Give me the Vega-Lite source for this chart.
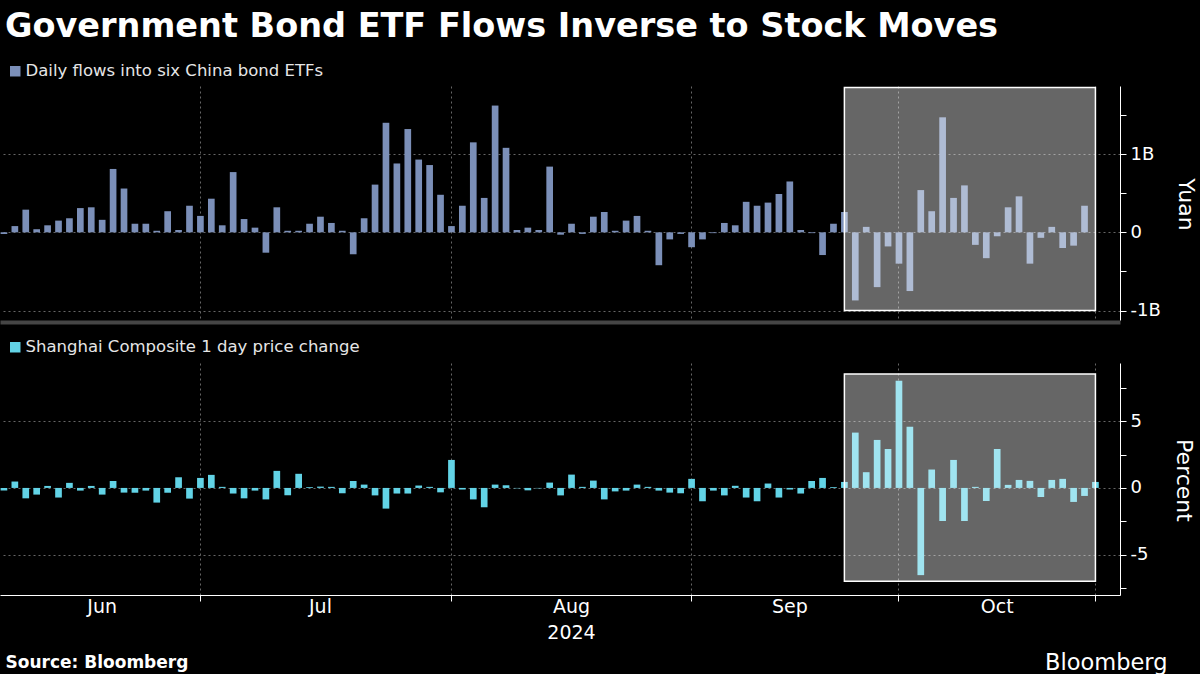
{
  "$schema": "https://vega.github.io/schema/vega-lite/v6.json",
  "background": "#000000",
  "padding": {"left": 0, "top": 9, "right": 4, "bottom": 0},
  "autosize": {"type": "pad"},
  "title": {"text": "Government Bond ETF Flows Inverse to Stock Moves", "anchor": "start", "dx": 5, "fontSize": 33.5, "font": "DejaVu Sans", "fontWeight": "bold", "color": "#ffffff", "offset": 19},
  "datasets": {
    "flows": [
      {"date": "2024-06-03", "bn": -0.02}, {"date": "2024-06-04", "bn": 0.08}, {"date": "2024-06-05", "bn": 0.29}, {"date": "2024-06-06", "bn": 0.04}, {"date": "2024-06-07", "bn": 0.09},
      {"date": "2024-06-11", "bn": 0.15}, {"date": "2024-06-12", "bn": 0.18}, {"date": "2024-06-13", "bn": 0.31}, {"date": "2024-06-14", "bn": 0.32},
      {"date": "2024-06-17", "bn": 0.16}, {"date": "2024-06-18", "bn": 0.81}, {"date": "2024-06-19", "bn": 0.56}, {"date": "2024-06-20", "bn": 0.11}, {"date": "2024-06-21", "bn": 0.11},
      {"date": "2024-06-24", "bn": 0.02}, {"date": "2024-06-25", "bn": 0.27}, {"date": "2024-06-26", "bn": 0.03}, {"date": "2024-06-27", "bn": 0.34}, {"date": "2024-06-28", "bn": 0.21},
      {"date": "2024-07-01", "bn": 0.43}, {"date": "2024-07-02", "bn": 0.09}, {"date": "2024-07-03", "bn": 0.77}, {"date": "2024-07-04", "bn": 0.17}, {"date": "2024-07-05", "bn": 0.06},
      {"date": "2024-07-08", "bn": -0.26}, {"date": "2024-07-09", "bn": 0.32}, {"date": "2024-07-10", "bn": 0.02}, {"date": "2024-07-11", "bn": 0.02}, {"date": "2024-07-12", "bn": 0.11},
      {"date": "2024-07-15", "bn": 0.20}, {"date": "2024-07-16", "bn": 0.12}, {"date": "2024-07-17", "bn": 0.02}, {"date": "2024-07-18", "bn": -0.28}, {"date": "2024-07-19", "bn": 0.18},
      {"date": "2024-07-22", "bn": 0.61}, {"date": "2024-07-23", "bn": 1.40}, {"date": "2024-07-24", "bn": 0.88}, {"date": "2024-07-25", "bn": 1.32}, {"date": "2024-07-26", "bn": 0.93},
      {"date": "2024-07-29", "bn": 0.86}, {"date": "2024-07-30", "bn": 0.48}, {"date": "2024-07-31", "bn": 0.08}, {"date": "2024-08-01", "bn": 0.34}, {"date": "2024-08-02", "bn": 1.15},
      {"date": "2024-08-05", "bn": 0.44}, {"date": "2024-08-06", "bn": 1.62}, {"date": "2024-08-07", "bn": 1.08}, {"date": "2024-08-08", "bn": 0.03}, {"date": "2024-08-09", "bn": 0.06},
      {"date": "2024-08-12", "bn": 0.03}, {"date": "2024-08-13", "bn": 0.84}, {"date": "2024-08-14", "bn": -0.03}, {"date": "2024-08-15", "bn": 0.11}, {"date": "2024-08-16", "bn": -0.02},
      {"date": "2024-08-19", "bn": 0.20}, {"date": "2024-08-20", "bn": 0.26}, {"date": "2024-08-21", "bn": 0.02}, {"date": "2024-08-22", "bn": 0.15}, {"date": "2024-08-23", "bn": 0.21},
      {"date": "2024-08-26", "bn": 0.02}, {"date": "2024-08-27", "bn": -0.42}, {"date": "2024-08-28", "bn": -0.09}, {"date": "2024-08-29", "bn": -0.02}, {"date": "2024-08-30", "bn": -0.19},
      {"date": "2024-09-02", "bn": -0.09}, {"date": "2024-09-03", "bn": -0.01}, {"date": "2024-09-04", "bn": 0.12}, {"date": "2024-09-05", "bn": 0.09}, {"date": "2024-09-06", "bn": 0.39},
      {"date": "2024-09-09", "bn": 0.34}, {"date": "2024-09-10", "bn": 0.38}, {"date": "2024-09-11", "bn": 0.49}, {"date": "2024-09-12", "bn": 0.65}, {"date": "2024-09-13", "bn": 0.03},
      {"date": "2024-09-18", "bn": -0.01}, {"date": "2024-09-19", "bn": -0.29}, {"date": "2024-09-20", "bn": 0.11},
      {"date": "2024-09-23", "bn": 0.26}, {"date": "2024-09-24", "bn": -0.87}, {"date": "2024-09-25", "bn": 0.07}, {"date": "2024-09-26", "bn": -0.70}, {"date": "2024-09-27", "bn": -0.18},
      {"date": "2024-09-30", "bn": -0.40}, {"date": "2024-10-08", "bn": -0.75}, {"date": "2024-10-09", "bn": 0.54}, {"date": "2024-10-10", "bn": 0.27}, {"date": "2024-10-11", "bn": 1.47},
      {"date": "2024-10-14", "bn": 0.44}, {"date": "2024-10-15", "bn": 0.60}, {"date": "2024-10-16", "bn": -0.16}, {"date": "2024-10-17", "bn": -0.33}, {"date": "2024-10-18", "bn": -0.05},
      {"date": "2024-10-21", "bn": 0.32}, {"date": "2024-10-22", "bn": 0.46}, {"date": "2024-10-23", "bn": -0.40}, {"date": "2024-10-24", "bn": -0.07}, {"date": "2024-10-25", "bn": 0.07},
      {"date": "2024-10-28", "bn": -0.20}, {"date": "2024-10-29", "bn": -0.17}, {"date": "2024-10-30", "bn": 0.34}
    ],
    "stocks": [
      {"date": "2024-06-03", "pct": -0.2}, {"date": "2024-06-04", "pct": 0.48}, {"date": "2024-06-05", "pct": -0.78}, {"date": "2024-06-06", "pct": -0.5}, {"date": "2024-06-07", "pct": 0.15},
      {"date": "2024-06-11", "pct": -0.72}, {"date": "2024-06-12", "pct": 0.38}, {"date": "2024-06-13", "pct": -0.2}, {"date": "2024-06-14", "pct": 0.15},
      {"date": "2024-06-17", "pct": -0.5}, {"date": "2024-06-18", "pct": 0.52}, {"date": "2024-06-19", "pct": -0.35}, {"date": "2024-06-20", "pct": -0.36}, {"date": "2024-06-21", "pct": -0.2},
      {"date": "2024-06-24", "pct": -1.1}, {"date": "2024-06-25", "pct": -0.36}, {"date": "2024-06-26", "pct": 0.8}, {"date": "2024-06-27", "pct": -0.8}, {"date": "2024-06-28", "pct": 0.75},
      {"date": "2024-07-01", "pct": 0.98}, {"date": "2024-07-02", "pct": 0.08}, {"date": "2024-07-03", "pct": -0.42}, {"date": "2024-07-04", "pct": -0.78}, {"date": "2024-07-05", "pct": -0.2},
      {"date": "2024-07-08", "pct": -0.86}, {"date": "2024-07-09", "pct": 1.28}, {"date": "2024-07-10", "pct": -0.55}, {"date": "2024-07-11", "pct": 1.06}, {"date": "2024-07-12", "pct": 0.06},
      {"date": "2024-07-15", "pct": 0.1}, {"date": "2024-07-16", "pct": 0.08}, {"date": "2024-07-17", "pct": -0.4}, {"date": "2024-07-18", "pct": 0.52}, {"date": "2024-07-19", "pct": 0.25},
      {"date": "2024-07-22", "pct": -0.56}, {"date": "2024-07-23", "pct": -1.55}, {"date": "2024-07-24", "pct": -0.42}, {"date": "2024-07-25", "pct": -0.42}, {"date": "2024-07-26", "pct": 0.18},
      {"date": "2024-07-29", "pct": 0.08}, {"date": "2024-07-30", "pct": -0.33}, {"date": "2024-07-31", "pct": 2.1}, {"date": "2024-08-01", "pct": -0.12}, {"date": "2024-08-02", "pct": -0.86},
      {"date": "2024-08-05", "pct": -1.45}, {"date": "2024-08-06", "pct": 0.25}, {"date": "2024-08-07", "pct": 0.2}, {"date": "2024-08-08", "pct": -0.03}, {"date": "2024-08-09", "pct": -0.18},
      {"date": "2024-08-12", "pct": -0.03}, {"date": "2024-08-13", "pct": 0.4}, {"date": "2024-08-14", "pct": -0.56}, {"date": "2024-08-15", "pct": 1.0}, {"date": "2024-08-16", "pct": 0.08},
      {"date": "2024-08-19", "pct": 0.55}, {"date": "2024-08-20", "pct": -0.86}, {"date": "2024-08-21", "pct": -0.26}, {"date": "2024-08-22", "pct": -0.2}, {"date": "2024-08-23", "pct": 0.25},
      {"date": "2024-08-26", "pct": 0.08}, {"date": "2024-08-27", "pct": -0.2}, {"date": "2024-08-28", "pct": -0.35}, {"date": "2024-08-29", "pct": -0.4}, {"date": "2024-08-30", "pct": 0.68},
      {"date": "2024-09-02", "pct": -1.0}, {"date": "2024-09-03", "pct": -0.2}, {"date": "2024-09-04", "pct": -0.56}, {"date": "2024-09-05", "pct": 0.16}, {"date": "2024-09-06", "pct": -0.72},
      {"date": "2024-09-09", "pct": -1.0}, {"date": "2024-09-10", "pct": 0.33}, {"date": "2024-09-11", "pct": -0.72}, {"date": "2024-09-12", "pct": -0.12}, {"date": "2024-09-13", "pct": -0.42},
      {"date": "2024-09-18", "pct": 0.52}, {"date": "2024-09-19", "pct": 0.75}, {"date": "2024-09-20", "pct": 0.06},
      {"date": "2024-09-23", "pct": 0.45}, {"date": "2024-09-24", "pct": 4.15}, {"date": "2024-09-25", "pct": 1.18}, {"date": "2024-09-26", "pct": 3.6}, {"date": "2024-09-27", "pct": 2.92},
      {"date": "2024-09-30", "pct": 8.04}, {"date": "2024-10-08", "pct": 4.59}, {"date": "2024-10-09", "pct": -6.54}, {"date": "2024-10-10", "pct": 1.38}, {"date": "2024-10-11", "pct": -2.48},
      {"date": "2024-10-14", "pct": 2.1}, {"date": "2024-10-15", "pct": -2.48}, {"date": "2024-10-16", "pct": 0.08}, {"date": "2024-10-17", "pct": -0.98}, {"date": "2024-10-18", "pct": 2.92},
      {"date": "2024-10-21", "pct": 0.23}, {"date": "2024-10-22", "pct": 0.6}, {"date": "2024-10-23", "pct": 0.53}, {"date": "2024-10-24", "pct": -0.68}, {"date": "2024-10-25", "pct": 0.6},
      {"date": "2024-10-28", "pct": 0.68}, {"date": "2024-10-29", "pct": -1.05}, {"date": "2024-10-30", "pct": -0.6}, {"date": "2024-10-31", "pct": 0.45}
    ],
    "box_top": [{"start": "2024-09-23", "end": "2024-10-31", "low": -1.0, "high": 1.85}],
    "box_bottom": [{"start": "2024-09-23", "end": "2024-10-31", "low": -7.0, "high": 8.55}]
  },
  "vconcat": [
    {
      "width": 1120,
      "height": 234,
      "layer": [
        {
          "data": {"name": "flows"},
          "mark": {"type": "bar"},
          "encoding": {
            "x": {
              "field": "date", "type": "ordinal",
              "scale": {"type": "band", "paddingInner": 0.388, "paddingOuter": 1.12, "align": 0.0275, "round": false},
              "axis": {"values": ["2024-06-28", "2024-07-31", "2024-08-30", "2024-09-30", "2024-10-31"], "labels": false, "ticks": false, "grid": true, "domain": true, "domainColor": "#454545", "domainWidth": 4, "offset": 2, "title": null}
            },
            "y": {
              "field": "bn", "type": "quantitative",
              "scale": {"domain": [-1.12, 1.87], "nice": false, "zero": false},
              "axis": {
                "orient": "right", "values": [-1, -0.5, 0, 0.5, 1, 1.5],
                "labelExpr": "datum.value == 0 ? '0' : (datum.value == 1 || datum.value == -1 ? datum.value + 'B' : '')",
                "grid": true, "gridOpacity": {"condition": {"test": "datum.value == 0.5 || datum.value == -0.5 || datum.value == 1.5", "value": 0}, "value": 1},
                "title": "Yuan", "titleAngle": 90, "titleFontSize": 22, "titleX": 65, "titleY": 118, "titleAlign": "center", "titleBaseline": "middle",
                "labelFontSize": 18, "labelPadding": 4, "tickSize": 6, "labelFlush": false, "labelOverlap": false
              }
            },
            "color": {
              "datum": "Daily flows into six China bond ETFs",
              "scale": {"range": ["#7b8fb8"]},
              "legend": {"orient": "none", "legendX": 7, "legendY": -23, "title": null, "symbolType": "square", "symbolSize": 110, "symbolStrokeWidth": 0, "labelFontSize": 16.5, "labelColor": "#e6e6e6", "labelFont": "DejaVu Sans", "labelOffset": 2, "labelLimit": 800, "padding": 0}
            }
          }
        },
        {
          "data": {"name": "box_top"},
          "mark": {"type": "rect", "fill": "#ffffff", "fillOpacity": 0.4, "stroke": "#ffffff", "strokeWidth": 1.5},
          "encoding": {
            "x": {"field": "start", "type": "ordinal", "bandPosition": 0.5},
            "x2": {"field": "end"},
            "y": {"field": "low", "type": "quantitative"},
            "y2": {"field": "high"}
          }
        }
      ]
    },
    {
      "width": 1120,
      "height": 232,
      "resolve": {"axis": {"x": "independent", "y": "independent"}},
      "layer": [
        {
          "data": {"name": "stocks"},
          "mark": {"type": "bar"},
          "encoding": {
            "x": {
              "field": "date", "type": "ordinal",
              "axis": {"orient": "bottom", "values": ["2024-06-28", "2024-07-31", "2024-08-30", "2024-09-30", "2024-10-31"], "labels": false, "ticks": true, "tickSize": 6, "grid": true, "domain": true,
                "title": "Source: Bloomberg", "titleAnchor": "start", "titleAlign": "left", "titleX": 5, "titleY": 67, "titleBaseline": "middle", "titleFontSize": 17, "titleFontWeight": "bold"}
            },
            "y": {
              "field": "pct", "type": "quantitative",
              "scale": {"domain": [-8.03, 9.37], "nice": false, "zero": false},
              "axis": {
                "orient": "right", "values": [-5, 0, 5],
                "labelExpr": "datum.value + ''",
                "grid": true,
                "title": "Percent", "titleAngle": 90, "titleFontSize": 22, "titleX": 63, "titleY": 117, "titleAlign": "center", "titleBaseline": "middle",
                "labelFontSize": 18, "labelPadding": 4, "tickSize": 6, "labelFlush": false, "labelOverlap": false
              }
            },
            "color": {
              "datum": "Shanghai Composite 1 day price change",
              "scale": {"range": ["#62d3e6"]},
              "legend": {"orient": "none", "legendX": 7, "legendY": -24, "title": null, "symbolType": "square", "symbolSize": 110, "symbolStrokeWidth": 0, "labelFontSize": 16.5, "labelColor": "#e6e6e6", "labelFont": "DejaVu Sans", "labelOffset": 2, "labelLimit": 800, "padding": 0}
            }
          }
        },
        {
          "data": {"name": "box_bottom"},
          "mark": {"type": "rect", "fill": "#ffffff", "fillOpacity": 0.4, "stroke": "#ffffff", "strokeWidth": 1.5},
          "encoding": {
            "x": {
              "field": "start", "type": "ordinal", "bandPosition": 0.5,
              "axis": {"orient": "bottom", "values": ["2024-06-17", "2024-07-15", "2024-08-15", "2024-09-12", "2024-10-18"],
                "labelExpr": "datum.value == '2024-06-17' ? 'Jun' : datum.value == '2024-07-15' ? 'Jul' : datum.value == '2024-08-15' ? ['Aug', '2024'] : datum.value == '2024-09-12' ? 'Sep' : 'Oct'",
                "labelAngle": 0, "labelFontSize": 19, "labelPadding": 2, "labelLineHeight": 26, "labelOverlap": false, "labelFlush": false, "labelBound": false,
                "grid": false, "ticks": false, "domain": false,
                "title": "Bloomberg", "titleX": 1167, "titleY": 67, "titleAlign": "right", "titleAnchor": "end", "titleBaseline": "middle", "titleFontSize": 22.5, "titleFontWeight": "normal"}
            },
            "x2": {"field": "end"},
            "y": {
              "field": "low", "type": "quantitative",
              "axis": {"orient": "right", "values": [-7.5, -2.5, 2.5, 7.5], "labels": false, "grid": false, "domain": false, "ticks": true, "tickSize": 6, "title": null}
            },
            "y2": {"field": "high"}
          }
        }
      ]
    }
  ],
  "spacing": 17,
  "resolve": {"scale": {"x": "shared", "color": "independent"}, "axis": {"x": "independent"}, "legend": {"color": "independent"}},
  "config": {
    "background": "#000000",
    "view": {"stroke": null},
    "font": "DejaVu Sans",
    "axis": {
      "domainColor": "#ffffff", "tickColor": "#ffffff", "labelColor": "#ffffff", "titleColor": "#ffffff",
      "labelFont": "DejaVu Sans", "titleFont": "DejaVu Sans", "titleFontWeight": "normal",
      "gridColor": "#666666", "gridDash": [2, 3], "gridWidth": 1
    }
  }
}
